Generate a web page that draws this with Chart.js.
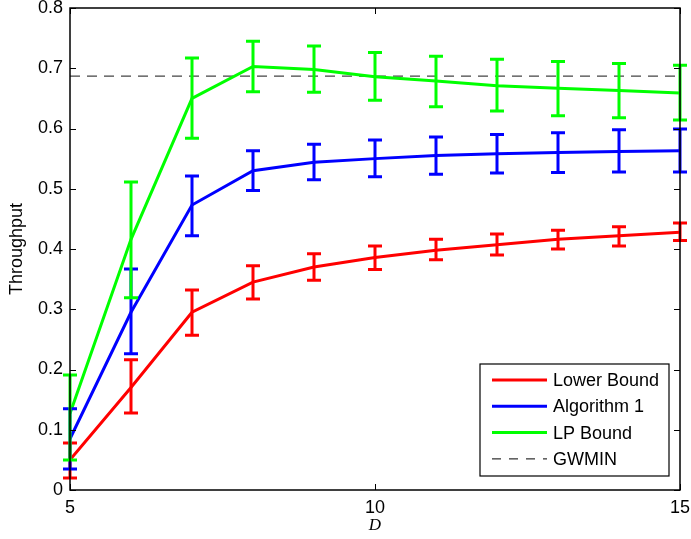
<!DOCTYPE html>
<html>
<head>
<meta charset="utf-8">
<script src="https://cdn.jsdelivr.net/npm/chart.js@4"></script>
<style>
  body { margin: 0; background: #fff; }
</style>
</head>
<body>
<canvas id="throughputCanvas" width="691" height="539"></canvas>
<script>
var dValues = [5, 6, 7, 8, 9, 10, 11, 12, 13, 14, 15];

var lowerBound = [0.05, 0.17, 0.295, 0.345, 0.37, 0.386, 0.398, 0.407, 0.416, 0.422, 0.428];
var lowerBoundLo = [0.02, 0.128, 0.257, 0.317, 0.348, 0.366, 0.382, 0.39, 0.4, 0.405, 0.414];
var lowerBoundHi = [0.078, 0.216, 0.332, 0.372, 0.392, 0.405, 0.416, 0.425, 0.431, 0.437, 0.443];

var algorithm1 = [0.085, 0.295, 0.473, 0.53, 0.544, 0.55, 0.555, 0.558, 0.56, 0.562, 0.563];
var algorithm1Lo = [0.035, 0.226, 0.422, 0.497, 0.515, 0.52, 0.524, 0.526, 0.527, 0.528, 0.528];
var algorithm1Hi = [0.135, 0.367, 0.521, 0.563, 0.574, 0.581, 0.586, 0.59, 0.593, 0.598, 0.599];

var lpBound = [0.127, 0.416, 0.65, 0.703, 0.698, 0.686, 0.679, 0.671, 0.667, 0.663, 0.659];
var lpBoundLo = [0.05, 0.319, 0.584, 0.661, 0.66, 0.647, 0.636, 0.629, 0.621, 0.618, 0.614];
var lpBoundHi = [0.191, 0.511, 0.717, 0.745, 0.737, 0.726, 0.72, 0.715, 0.711, 0.708, 0.705];

var gwmin = 0.687;

var xTicks = [5, 10, 15];
var yTicks = [0, 0.1, 0.2, 0.3, 0.4, 0.5, 0.6, 0.7, 0.8];

function points(ys) {
  return dValues.map(function (d, i) { return { x: d, y: ys[i] }; });
}

var errorBars = [
  { lo: lowerBoundLo, hi: lowerBoundHi, color: "#ff0000" },
  { lo: algorithm1Lo, hi: algorithm1Hi, color: "#0000ff" },
  { lo: lpBoundLo, hi: lpBoundHi, color: "#00ff00" }
];

var fontName = "'Liberation Sans', Arial, sans-serif";

// error bars, inward ticks, frame and legend drawn after the lines
var matlabLook = {
  id: "matlabLook",
  afterDatasetsDraw: function (chart) {
    var ctx = chart.ctx;
    var xs = chart.scales.x, ys = chart.scales.y;
    var area = chart.chartArea;
    ctx.save();
    ctx.lineCap = "butt";
    errorBars.forEach(function (eb) {
      ctx.strokeStyle = eb.color;
      ctx.lineWidth = 3;
      dValues.forEach(function (d, i) {
        var px = xs.getPixelForValue(d);
        var top = ys.getPixelForValue(eb.hi[i]);
        var bot = ys.getPixelForValue(eb.lo[i]);
        ctx.beginPath();
        ctx.moveTo(px, top); ctx.lineTo(px, bot);
        ctx.moveTo(px - 7, top); ctx.lineTo(px + 7, top);
        ctx.moveTo(px - 7, bot); ctx.lineTo(px + 7, bot);
        ctx.stroke();
      });
    });
    ctx.restore();

    ctx.save();
    ctx.strokeStyle = "#000";
    ctx.lineWidth = 1;
    ctx.beginPath();
    yTicks.forEach(function (v) {
      var py = Math.round(ys.getPixelForValue(v)) + 0.5;
      ctx.moveTo(area.left, py); ctx.lineTo(area.left + 6, py);
      ctx.moveTo(area.right, py); ctx.lineTo(area.right - 6, py);
    });
    xTicks.forEach(function (v) {
      var px = Math.round(xs.getPixelForValue(v)) + 0.5;
      ctx.moveTo(px, area.bottom); ctx.lineTo(px, area.bottom - 6);
      ctx.moveTo(px, area.top); ctx.lineTo(px, area.top + 6);
    });
    ctx.stroke();
    ctx.lineWidth = 1.5;
    ctx.strokeRect(area.left, area.top, area.right - area.left, area.bottom - area.top);

    // legend box
    var bx = 480, by = 364, bw = 189, bh = 112;
    ctx.fillStyle = "#fff";
    ctx.fillRect(bx, by, bw, bh);
    ctx.lineWidth = 1.2;
    ctx.strokeRect(bx, by, bw, bh);
    ctx.font = "18px " + fontName;
    ctx.textBaseline = "middle";
    chart.data.datasets.forEach(function (ds, i) {
      var ly = by + 16 + i * 26.3;
      ctx.strokeStyle = i === 3 ? "#000" : ds.borderColor;
      ctx.lineWidth = i === 3 ? 1 : ds.borderWidth;
      ctx.setLineDash(i === 3 ? [9, 8] : []);
      ctx.beginPath();
      ctx.moveTo(bx + 12, ly); ctx.lineTo(bx + 67, ly);
      ctx.stroke();
      ctx.setLineDash([]);
      ctx.fillStyle = "#000";
      ctx.fillText(ds.label, bx + 73, ly + 1);
    });
    ctx.restore();
  }
};

new Chart(document.getElementById("throughputCanvas"), {
  type: "line",
  data: {
    datasets: [
      { label: "Lower Bound", data: points(lowerBound), borderColor: "#ff0000", borderWidth: 3 },
      { label: "Algorithm 1", data: points(algorithm1), borderColor: "#0000ff", borderWidth: 3 },
      { label: "LP Bound", data: points(lpBound), borderColor: "#00ff00", borderWidth: 3 },
      { label: "GWMIN", data: [{ x: 5, y: gwmin }, { x: 15, y: gwmin }], borderColor: "#444444", borderWidth: 1.3, borderDash: [10, 7] }
    ]
  },
  options: {
    responsive: false,
    animation: false,
    layout: { padding: { top: 8, right: 11, left: 0, bottom: 0 } },
    elements: { point: { radius: 0 }, line: { tension: 0 } },
    plugins: { legend: { display: false }, tooltip: { enabled: false } },
    scales: {
      x: {
        type: "linear",
        min: 5, max: 15,
        afterFit: function (s) { s.height = 49; s.paddingLeft = 0; s.paddingRight = 0; },
        afterBuildTicks: function (s) { s.ticks = xTicks.map(function (v) { return { value: v }; }); },
        grid: { display: false, drawTicks: false },
        border: { display: false },
        ticks: { color: "#000", font: { size: 18, family: fontName }, padding: 7, maxRotation: 0 },
        title: { display: true, text: "D", color: "#000", font: { size: 17, style: "italic", family: "'Liberation Serif', 'Times New Roman', serif" }, padding: { top: 0, bottom: 3 } }
      },
      y: {
        min: 0, max: 0.8,
        afterFit: function (s) { s.width = 70; s.paddingTop = 0; s.paddingBottom = 0; },
        afterBuildTicks: function (s) { s.ticks = yTicks.map(function (v) { return { value: v }; }); },
        grid: { display: false, drawTicks: false },
        border: { display: false },
        ticks: { color: "#000", font: { size: 18, family: fontName }, padding: 7,
          callback: function (v) { return v === 0 ? "0" : v.toFixed(1); } },
        title: { display: true, text: "Throughput", color: "#000", font: { size: 18, family: fontName }, padding: { top: 6, bottom: 2 } }
      }
    }
  },
  plugins: [matlabLook]
});
</script>
</body>
</html>
